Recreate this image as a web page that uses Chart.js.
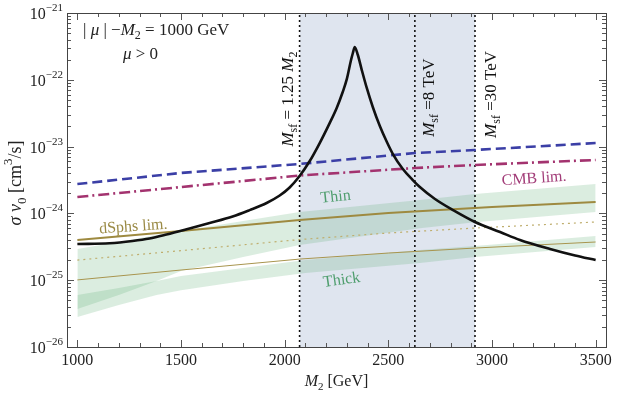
<!DOCTYPE html>
<html>
<head>
<meta charset="utf-8">
<script src="https://cdn.jsdelivr.net/npm/chart.js@4.4.1/dist/chart.umd.min.js"></script>
<style>
  html, body { margin: 0; padding: 0; background: #fff; }
</style>
</head>
<body>
<canvas id="chart" width="620" height="393"></canvas>
<script>
// axis ticks
const xTicks = [1000, 1500, 2000, 2500, 3000, 3500];
const yDecades = [-26, -25, -24, -23, -22, -21];

// relic curve sigma v0 vs M2 (black)
const curveMass  = [1000, 1155, 1266, 1348, 1430, 1541, 1638, 1749, 1831, 1913, 1976, 2024, 2072, 2121, 2169, 2217, 2251, 2280, 2300, 2319, 2329, 2338,
                    2353, 2372, 2396, 2425, 2459, 2493, 2522, 2570, 2618, 2652, 2725, 2812, 2918, 3039, 3135, 3280, 3401, 3500];
const curveSigma = [3.48e-25, 3.57e-25, 3.86e-25, 4.21e-25, 4.83e-25, 5.95e-25, 7.18e-25, 8.99e-25, 1.12e-24, 1.43e-24, 1.85e-24, 2.44e-24, 3.63e-24, 6.08e-24, 1.13e-23, 2.25e-23, 3.79e-23, 6.56e-23, 1.03e-22, 1.91e-22, 2.52e-22, 3.1e-22,
                    2.35e-22, 1.4e-22, 7.54e-23, 3.92e-23, 2.03e-23, 1.17e-23, 7.74e-24, 4.62e-24, 3.16e-24, 2.48e-24, 1.64e-24, 1.12e-24, 7.43e-25, 5.27e-25, 4.0e-25, 2.93e-25, 2.34e-25, 2.0e-25];

// blue dashed limit
const blueMass  = [1000, 1500, 2072, 2628, 2918, 3500];
const blueSigma = [2.75e-24, 4.03e-24, 5.5e-24, 8.0e-24, 8.9e-24, 1.13e-23];

// CMB limit (magenta dash-dot)
const cmbMass  = [1000, 1500, 2072, 2628, 2918, 3500];
const cmbSigma = [1.76e-24, 2.48e-24, 3.69e-24, 4.78e-24, 5.31e-24, 6.3e-24];

// dSphs limits (gold)
const dsphMass    = [1000, 1500, 2072, 2500, 3000, 3500];
const dsphSigma   = [4.0e-25, 5.46e-25, 7.96e-25, 1.01e-24, 1.25e-24, 1.48e-24];
const dsphDotMass  = [1000, 1478, 2072, 2500, 2918, 3500];
const dsphDotSigma = [2.0e-25, 2.73e-25, 4.06e-25, 5.09e-25, 6.04e-25, 7.43e-25];
const dsphLowMass  = [1000, 1500, 2072, 2500, 2918, 3500];
const dsphLowSigma = [1.01e-25, 1.42e-25, 2.07e-25, 2.55e-25, 3.03e-25, 3.73e-25];

// green bands
const thinMass  = [1000, 1200, 1382, 1500, 1800, 2072, 2652, 2918, 3500];
const thinHigh  = [2.93e-25, 3.73e-25, 4.75e-25, 5.46e-25, 7.69e-25, 1.05e-24, 1.59e-24, 1.95e-24, 2.75e-24];
const thinLow   = [3.71e-26, 6.0e-26, 9.7e-26, 1.37e-25, 2.22e-25, 3.36e-25, 6.0e-25, 7.4e-25, 1.05e-24];
const thickMass = [1000, 1200, 1382, 1500, 1800, 2100, 2652, 2918, 3500];
const thickHigh = [6.0e-26, 7.63e-26, 9.7e-26, 1.16e-25, 1.52e-25, 2.0e-25, 2.83e-25, 3.25e-25, 4.6e-25];
const thickLow  = [2.81e-26, 4.26e-26, 6.0e-26, 7.1e-26, 9.7e-26, 1.28e-25, 1.81e-25, 2.22e-25, 3.14e-25];

// sfermion mass lines and shaded window
const line125 = 2072, line8 = 2628, line30 = 2918;
const yMin = 1e-26, yMax = 1e-21;

const SERIF = '"Liberation Serif", "DejaVu Serif", serif';
const pts = (xs, ys) => xs.map((x, i) => ({ x, y: ys[i] }));
const ds = (label, xs, ys, extra) => Object.assign({
  label, data: pts(xs, ys), pointRadius: 0, borderWidth: 1, fill: false, tension: 0
}, extra);

function fontOf(p, size) {
  const s = (p.sub || p.sup) ? Math.round(size * 0.7) : size;
  return (p.it ? 'italic ' : '') + s + 'px ' + SERIF;
}
function richWidth(ctx, parts, size) {
  let w = 0;
  parts.forEach(p => { ctx.font = fontOf(p, size); w += ctx.measureText(p.t).width; });
  return w;
}
function drawRich(ctx, parts, x, y, size, align) {
  const w = richWidth(ctx, parts, size);
  let cx = align === 'center' ? x - w / 2 : align === 'right' ? x - w : x;
  ctx.textAlign = 'left';
  ctx.textBaseline = 'alphabetic';
  parts.forEach(p => {
    ctx.font = fontOf(p, size);
    const dy = p.sub ? size * 0.25 : p.sup ? -size * 0.5 : 0;
    ctx.fillText(p.t, cx, y + dy);
    cx += ctx.measureText(p.t).width;
  });
}

const decor = {
  id: 'decor',
  afterDraw(chart) {
    const { ctx, chartArea: a, scales: { x, y } } = chart;
    ctx.save();

    // inward ticks on all four sides
    ctx.strokeStyle = '#555';
    ctx.lineWidth = 1;
    ctx.beginPath();
    for (let m = 1000; m <= 3500; m += 100) {
      const px = Math.round(x.getPixelForValue(m)) + 0.5;
      const len = m % 500 === 0 ? 7 : 4;
      ctx.moveTo(px, a.bottom); ctx.lineTo(px, a.bottom - len);
      ctx.moveTo(px, a.top); ctx.lineTo(px, a.top + len);
    }
    yDecades.forEach(e => {
      for (let k = 1; k < 10; k++) {
        if (e === -21 && k > 1) break;
        const py = Math.round(y.getPixelForValue(k * Math.pow(10, e))) + 0.5;
        const len = k === 1 ? 7 : 4;
        ctx.moveTo(a.left, py); ctx.lineTo(a.left + len, py);
        ctx.moveTo(a.right, py); ctx.lineTo(a.right - len, py);
      }
    });
    ctx.stroke();

    // frame
    ctx.strokeStyle = '#444';
    ctx.strokeRect(Math.round(a.left) + 0.5, Math.round(a.top) + 0.5,
      Math.round(a.right - a.left), Math.round(a.bottom - a.top));

    // y tick labels
    ctx.fillStyle = '#222';
    yDecades.forEach(e => {
      const py = y.getPixelForValue(Math.pow(10, e));
      drawRich(ctx, [{ t: '10' }, { t: '\u2212' + Math.abs(e), sup: true }], a.left - 4, py + 6, 16, 'right');
    });

    // axis titles
    drawRich(ctx, [{ t: 'M', it: true }, { t: '2', sub: true }, { t: ' [GeV]' }],
      (a.left + a.right) / 2, 386, 16, 'center');
    ctx.save();
    ctx.translate(21, 183);
    ctx.rotate(-Math.PI / 2);
    drawRich(ctx, [{ t: '\u03c3', it: true }, { t: ' ' }, { t: 'v', it: true }, { t: '0', sub: true },
      { t: ' [cm' }, { t: '3', sup: true }, { t: '/s]' }], 0, 0, 18, 'center');
    ctx.restore();

    // corner labels
    drawRich(ctx, [{ t: '| ' }, { t: '\u03bc', it: true }, { t: ' |' }, { t: ' \u2212' }, { t: 'M', it: true },
      { t: '2', sub: true }, { t: ' = 1000 GeV' }], a.left + 16, 35, 17, 'left');
    drawRich(ctx, [{ t: '\u03bc', it: true }, { t: ' > 0' }], a.left + 56, 59, 17, 'left');

    // vertical line labels
    const vlab = (mass, dx, val, parts) => {
      ctx.save();
      ctx.translate(x.getPixelForValue(mass) + dx, y.getPixelForValue(val));
      ctx.rotate(-Math.PI / 2);
      drawRich(ctx, parts, 0, 0, 17, 'left');
      ctx.restore();
    };
    ctx.fillStyle = '#111';
    vlab(line125, -7, 1e-23, [{ t: 'M', it: true }, { t: 'sf', sub: true }, { t: ' = 1.25 ' }, { t: 'M', it: true }, { t: '2', sub: true }]);
    vlab(line8, 19, 1.4e-23, [{ t: 'M', it: true }, { t: 'sf', sub: true }, { t: ' =8 TeV' }]);
    vlab(line30, 21, 1.35e-23, [{ t: 'M', it: true }, { t: 'sf', sub: true }, { t: ' =30 TeV' }]);

    // curve labels
    const tlab = (text, mass, val, deg, color) => {
      ctx.save();
      ctx.translate(x.getPixelForValue(mass), y.getPixelForValue(val));
      ctx.rotate(deg * Math.PI / 180);
      ctx.fillStyle = color;
      ctx.font = '16px ' + SERIF;
      ctx.textAlign = 'center';
      ctx.textBaseline = 'middle';
      ctx.fillText(text, 0, 0);
      ctx.restore();
    };
    tlab('Thin', 2246, 1.76e-24, -6, '#4f9e6e');
    tlab('Thick', 2275, 1.0e-25, -8, '#4f9e6e');
    tlab('CMB lim.', 3203, 3.3e-24, -4, '#a23c78');
    tlab('dSphs lim.', 1270, 6.3e-25, -4, '#9a8a45');

    ctx.restore();
  }
};

const GREEN = 'rgba(90,175,115,0.22)';

new Chart(document.getElementById('chart'), {
  type: 'line',
  data: {
    datasets: [
      ds('shadeTop', [line125, line30], [yMax, yMax], { borderWidth: 0, fill: '+1', backgroundColor: '#dfe5ef', order: 20 }),
      ds('shadeBottom', [line125, line30], [yMin, yMin], { borderWidth: 0, order: 21 }),
      ds('thinHigh', thinMass, thinHigh, { borderWidth: 0, fill: '+1', backgroundColor: GREEN, order: 15 }),
      ds('thinLow', thinMass, thinLow, { borderWidth: 0, order: 16 }),
      ds('thickHigh', thickMass, thickHigh, { borderWidth: 0, fill: '+1', backgroundColor: GREEN, order: 13 }),
      ds('thickLow', thickMass, thickLow, { borderWidth: 0, order: 14 }),
      ds('Msf125', [line125, line125], [yMin, yMax], { borderColor: '#111', borderWidth: 1.6, borderDash: [2, 3], order: 10 }),
      ds('Msf8', [line8, line8], [yMin, yMax], { borderColor: '#111', borderWidth: 1.6, borderDash: [2, 3], order: 10 }),
      ds('Msf30', [line30, line30], [yMin, yMax], { borderColor: '#111', borderWidth: 1.6, borderDash: [2, 3], order: 10 }),
      ds('dSphs low', dsphLowMass, dsphLowSigma, { borderColor: '#a8954e', borderWidth: 1, order: 6 }),
      ds('dSphs dotted', dsphDotMass, dsphDotSigma, { borderColor: '#bfae6e', borderWidth: 1.2, borderDash: [2, 4], order: 6 }),
      ds('dSphs lim.', dsphMass, dsphSigma, { borderColor: '#9e8a40', borderWidth: 2, order: 5 }),
      ds('CMB lim.', cmbMass, cmbSigma, { borderColor: '#a3336f', borderWidth: 2.6, borderDash: [11, 4, 2, 4], order: 4 }),
      ds('blue', blueMass, blueSigma, { borderColor: '#3b3fa6', borderWidth: 2.6, borderDash: [10, 5], order: 3 }),
      ds('sigma v0', curveMass, curveSigma, { borderColor: '#111', borderWidth: 2.6, cubicInterpolationMode: 'monotone', order: 1 })
    ]
  },
  options: {
    responsive: false,
    animation: false,
    devicePixelRatio: 1,
    layout: { padding: { left: 0, top: 13, right: 14, bottom: 0 } },
    plugins: { legend: { display: false }, tooltip: { enabled: false } },
    scales: {
      x: {
        type: 'linear', min: 950, max: 3550,
        grid: { display: false, drawTicks: false },
        border: { display: false },
        ticks: { font: { family: SERIF, size: 16 }, color: '#222', padding: 4, callback: v => String(v) },
        afterBuildTicks: s => { s.ticks = xTicks.map(v => ({ value: v })); },
        afterFit: s => { s.height = 46; }
      },
      y: {
        type: 'logarithmic', min: yMin, max: yMax,
        grid: { display: false, drawTicks: false },
        border: { display: false },
        ticks: { display: false },
        afterBuildTicks: s => { s.ticks = yDecades.map(e => ({ value: Math.pow(10, e) })); },
        afterFit: s => { s.width = 67; }
      }
    }
  },
  plugins: [decor]
});
</script>
</body>
</html>
